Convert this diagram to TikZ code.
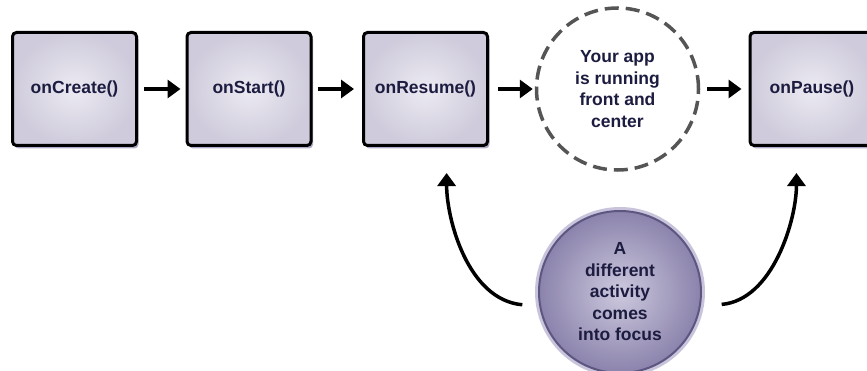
\documentclass[tikz,border=0pt]{standalone}
\usepackage{fontspec}
\setmainfont{Liberation Sans}
\usetikzlibrary{arrows.meta,shadows}
\definecolor{boxfill}{HTML}{ECEAF2}
\definecolor{boxedge}{HTML}{CFCBDC}
\definecolor{boxshadow}{HTML}{8C84AE}
\definecolor{labelcol}{HTML}{1C1C40}
\definecolor{dashcol}{HTML}{555555}
\definecolor{focusin}{HTML}{CDC9DE}
\definecolor{focusout}{HTML}{8B83AC}
\definecolor{focusedge}{HTML}{5C5680}
\definecolor{focushalo}{HTML}{C9C4DC}

\begin{document}
\begin{tikzpicture}[x=1pt, y=1pt]
\tikzset{every node/.style={font=\fontsize{17.5}{21.5}\selectfont\bfseries, text=labelcol, align=center}}
\tikzset{lifebox/.style={draw=black, line width=3pt, rounded corners=4pt,
  minimum width=124pt, minimum height=113pt, inner color=boxfill, outer color=boxedge,
  drop shadow={shadow xshift=2pt, shadow yshift=-3pt, fill=boxshadow, opacity=0.7}}}
\tikzset{runcircle/.style={circle, draw=dashcol, line width=3.5pt,
  dash pattern=on 14pt off 7pt, minimum size=162pt, fill=white}}
\tikzset{focuscircle/.style={circle, draw=focusedge, line width=2pt, minimum size=162pt,
  inner color=focusin, outer color=focusout,
  preaction={draw=focushalo, line width=8pt}}}
\tikzset{flow/.style={line width=3.5pt, -{Triangle[length=13pt, width=18pt]}}}
\useasboundingbox (0,0) rectangle (867,370);
% lifecycle boxes along the top
\node[lifebox] (create) at (74.5,281) {onCreate()};
\node[lifebox] (start) at (249,281) {onStart()};
\node[lifebox] (resume) at (425.5,281) {onResume()};
\node[runcircle] (run) at (617.5,281) {Your app\\is running\\front and\\center};
\node[lifebox] (pause) at (812,281) {onPause()};
% the other activity
\node[focuscircle] (focus) at (620,78) {A\\different\\activity\\comes\\into focus};
% connectors
\draw[flow, shorten <=6pt, shorten >=5pt] (create.east) -- (start.west);
\draw[flow, shorten <=5pt, shorten >=8pt] (start.east) -- (resume.west);
\draw[flow, shorten <=9pt, shorten >=2pt] (resume.east) -- (run.west);
\draw[flow, shorten <=7pt, shorten >=7pt] (run.east) -- (pause.west);
\draw[flow, shorten <=17pt, shorten >=26pt] (focus.190) to[out=175, in=-90] (resume.-70);
\draw[flow, shorten <=21pt, shorten >=26pt] (focus.-10) to[out=5, in=-90] (pause.-105);
\end{tikzpicture}
\end{document}
